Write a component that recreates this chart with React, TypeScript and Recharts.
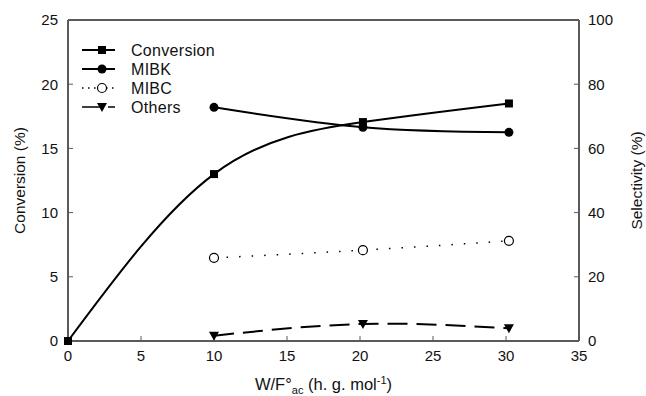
import { ComposedChart, Line, XAxis, YAxis, ReferenceLine } from "recharts";

// W/F°ac values (x) and the four measured series
const wf = [0, 10, 20.2, 30.2];
const conversion = [0, 13.0, 17.05, 18.5];
const mibk = [null, 72.8, 66.6, 65.0];
const mibc = [null, 25.9, 28.3, 31.2];
const others = [null, 1.65, 5.3, 3.95];

const xTicks = [0, 5, 10, 15, 20, 25, 30, 35];
const leftTicks = [0, 5, 10, 15, 20, 25];
const rightTicks = [0, 20, 40, 60, 80, 100];

const data = wf.map((x, i) => ({
  x,
  conversion: conversion[i],
  mibk: mibk[i],
  mibc: mibc[i],
  others: others[i],
}));

const FONT = "'Liberation Sans', Arial, sans-serif";
const AXIS = "#5a5a5a";

const square = (cx: number, cy: number) => <rect x={cx - 4} y={cy - 4} width={8} height={8} fill="#000" />;
const filledCircle = (cx: number, cy: number) => <circle cx={cx} cy={cy} r={4.5} fill="#000" />;
const openCircle = (cx: number, cy: number) => <circle cx={cx} cy={cy} r={4.5} fill="#fff" stroke="#000" strokeWidth={1.2} />;
const triangle = (cx: number, cy: number) => (
  <path d={`M${cx - 5},${cy - 4} L${cx + 5},${cy - 4} L${cx},${cy + 5} Z`} fill="#000" />
);

const makeDot = (shape: (cx: number, cy: number) => any) => (props: any) => {
  const { cx, cy, value, key } = props;
  if (value == null || cy == null || isNaN(cy)) return <g key={key} />;
  return <g key={key}>{shape(cx, cy)}</g>;
};

const series = [
  { name: "Conversion", dash: undefined, marker: square },
  { name: "MIBK", dash: undefined, marker: filledCircle },
  { name: "MIBC", dash: "1.5 4.5", marker: openCircle },
  { name: "Others", dash: "18 8", marker: triangle },
];

function LegendBox() {
  return (
    <svg width={150} height={80} style={{ position: "absolute", left: 80, top: 40 }}>
      {series.map((s, i) => {
        const y = 10 + i * 19;
        return (
          <g key={s.name}>
            <line x1={2} x2={35} y1={y} y2={y} stroke="#000" strokeWidth={s.dash ? 1.5 : 2} strokeDasharray={s.dash} />
            {s.marker(22, y)}
            <text x={51} y={y + 6} fontSize={16} fontFamily={FONT} letterSpacing={0.3} fill="#111">
              {s.name}
            </text>
          </g>
        );
      })}
    </svg>
  );
}

function XLabel(props: any) {
  const vb = props.viewBox || {};
  const cx = vb.x + vb.width / 2;
  return (
    <text x={cx} y={390} textAnchor="middle" fontSize={16.5} fontFamily={FONT} fill="#111">
      W/F°
      <tspan fontSize={11} dy={4}>ac</tspan>
      <tspan dy={-4}> (h. g. mol</tspan>
      <tspan fontSize={11} dy={-6}>-1</tspan>
      <tspan dy={6}>)</tspan>
    </text>
  );
}

export default function App() {
  const tickStyle = { fill: "#111", fontSize: 15, fontFamily: FONT };
  const axisLine = { stroke: AXIS, strokeWidth: 2 };
  const tickLine = { stroke: AXIS, strokeWidth: 1 };
  const titleStyle = { textAnchor: "middle", fontSize: 15.5, fontFamily: FONT, fill: "#111" };
  return (
    <div style={{ position: "absolute", left: 0, top: 0, width: 646, height: 396, background: "#fff" }}>
      <ComposedChart width={646} height={396} data={data} margin={{ top: 20, right: 0, bottom: 0, left: 0 }}>
        <XAxis
          dataKey="x"
          type="number"
          domain={[0, 35]}
          ticks={xTicks}
          height={55}
          tick={tickStyle}
          tickSize={-5}
          tickMargin={14}
          axisLine={axisLine}
          tickLine={tickLine}
          label={<XLabel />}
        />
        <YAxis
          yAxisId="left"
          domain={[0, 25]}
          ticks={leftTicks}
          width={68}
          tick={tickStyle}
          tickSize={-5}
          tickMargin={15}
          axisLine={axisLine}
          tickLine={tickLine}
          label={{ value: "Conversion (%)", angle: -90, position: "insideLeft", offset: 19, style: titleStyle }}
        />
        <YAxis
          yAxisId="right"
          orientation="right"
          domain={[0, 100]}
          ticks={rightTicks}
          width={67}
          tick={tickStyle}
          tickSize={-5}
          tickMargin={14}
          axisLine={axisLine}
          tickLine={tickLine}
          label={{ value: "Selectivity (%)", angle: -90, position: "insideRight", offset: 10, style: titleStyle }}
        />
        <ReferenceLine yAxisId="left" y={25} stroke={AXIS} strokeWidth={2} />
        <Line
          yAxisId="left"
          dataKey="conversion"
          name="Conversion"
          type="natural"
          stroke="#000"
          strokeWidth={2}
          dot={makeDot(square)}
          isAnimationActive={false}
        />
        <Line
          yAxisId="right"
          dataKey="mibk"
          name="MIBK"
          type="natural"
          stroke="#000"
          strokeWidth={2}
          dot={makeDot(filledCircle)}
          isAnimationActive={false}
        />
        <Line
          yAxisId="right"
          dataKey="mibc"
          name="MIBC"
          type="natural"
          stroke="#000"
          strokeWidth={1.5}
          strokeDasharray="1.5 11"
          dot={makeDot(openCircle)}
          isAnimationActive={false}
        />
        <Line
          yAxisId="right"
          dataKey="others"
          name="Others"
          type="natural"
          stroke="#000"
          strokeWidth={2}
          strokeDasharray="20 9"
          dot={makeDot(triangle)}
          isAnimationActive={false}
        />
      </ComposedChart>
      <LegendBox />
    </div>
  );
}
